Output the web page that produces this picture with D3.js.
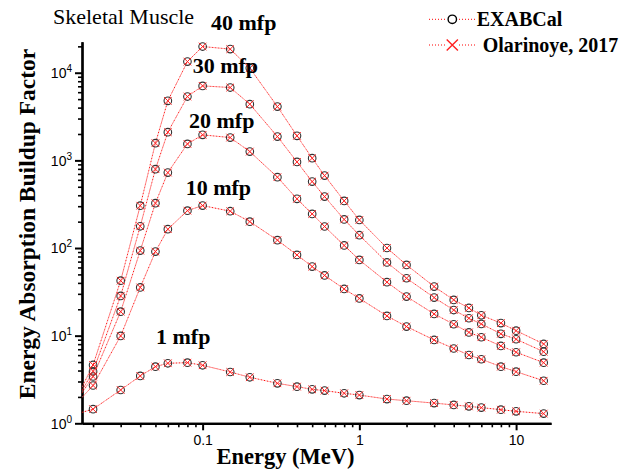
<!DOCTYPE html>
<html><head><meta charset="utf-8">
<script src="https://cdn.jsdelivr.net/npm/d3@7"></script>
<style>body{margin:0;background:#fff}</style>
</head><body>
<svg id="c" width="636" height="474" xmlns="http://www.w3.org/2000/svg"></svg>
<script>
// ---- data ----
const energies = [0.015,0.02,0.03,0.04,0.05,0.06,0.08,0.1,0.15,0.2,0.3,0.4,0.5,0.6,0.8,1,1.5,2,3,4,5,6,8,10,15];
const mfp1  = [1.25,1.45,2.40,3.47,4.43,4.84,4.92,4.59,3.85,3.35,2.86,2.62,2.44,2.36,2.20,2.10,1.89,1.81,1.70,1.62,1.56,1.51,1.43,1.37,1.29];
const mfp10 = [1.55,2.70,9.93,35.5,91,164,267,305,263,200,123,83.4,61.4,48.7,34.1,26.6,16.8,12.7,8.93,7.14,6.02,5.38,4.43,3.88,3.06];
const mfp20 = [1.6,3.42,18.8,93.4,325,726,1542,1955,1821,1260,643,364,245,176,107,73.1,40.8,27.9,17.7,13.5,10.9,9.59,7.63,6.47,4.92];
const mfp30 = [1.6,3.92,28.4,177,794,2100,5350,7080,6780,4380,1870,961,573,386,212,140,68.5,45.2,27.2,19.6,15.8,13.6,10.5,9.1,6.56];
const mfp40 = [1.65,4.63,42.4,304,1572,4780,13400,19900,18600,11300,4110,1905,1059,670,345,209,100,64.1,36.3,25.6,20.7,17.1,13.9,11.4,8.04];
const exabcal = [mfp1, mfp10, mfp20, mfp30, mfp40];
const olarinoye = [mfp1, mfp10, mfp20, mfp30, mfp40];
const seriesLabels = ["1 mfp","10 mfp","20 mfp","30 mfp","40 mfp"];
const legendLabels = ["EXABCal","Olarinoye, 2017"];
const xTickValues = [0.1, 1, 10];
const xTickLabels = ["0.1","1","10"];
const yTickValues = [1, 10, 100, 1000, 10000];
const yTickExponents = ["0","1","2","3","4"];
const chartTitle = "Skeletal Muscle";
const xTitle = "Energy (MeV)";
const yTitle = "Energy Absorption Buildup Factor";

// ---- layout ----
const L = 82, R = 551, T = 41.7, B = 423.3;
const labelPos = [[156,343.5],[185.7,195],[189,128.3],[192.7,73],[211,30]];
const serif = "'Liberation Serif','Times New Roman',serif";
const sans = "'Liberation Sans',Arial,sans-serif";

const svg = d3.select("#c");
const x = d3.scaleLog().domain([0.017, 16.7]).range([L, R]);
const y = d3.scaleLog().domain([1, 22600]).range([B, T]);

svg.append("defs").append("clipPath").attr("id","plot")
  .append("rect").attr("x",L).attr("y",T).attr("width",R-L).attr("height",B-T);

// minor tick values
const xMinor = [];
[0.01,0.1,1,10].forEach(d => { for (let k=2;k<=9;k++){ const v=d*k; if (v>=0.017 && v<=16.7) xMinor.push(v);} });
const yMinor = [];
[1,10,100,1000,10000].forEach(d => { for (let k=2;k<=9;k++){ const v=d*k; if (v<=22600) yMinor.push(v);} });

// x axis
const gx = svg.append("g").attr("transform",`translate(0,${B})`);
gx.call(d3.axisBottom(x).tickValues(xMinor).tickSize(4).tickFormat("").tickSizeOuter(0));
gx.selectAll(".tick line").attr("stroke-width",1.6);
const gx2 = svg.append("g").attr("transform",`translate(0,${B})`);
gx2.call(d3.axisBottom(x).tickValues(xTickValues).tickSize(7).tickPadding(5)
  .tickFormat((d,i)=>xTickLabels[i]).tickSizeOuter(0));
gx2.selectAll(".tick line").attr("stroke-width",2);
gx2.selectAll("text").attr("font-family",sans).attr("font-size",14).attr("fill","#000");
[gx,gx2].forEach(g=>g.select(".domain").attr("stroke-width",2.2).attr("stroke","#000"));

// y axis
const gy = svg.append("g").attr("transform",`translate(${L},0)`);
gy.call(d3.axisLeft(y).tickValues(yMinor).tickSize(4).tickFormat("").tickSizeOuter(0));
gy.selectAll(".tick line").attr("stroke-width",1.6);
const gy2 = svg.append("g").attr("transform",`translate(${L},0)`);
gy2.call(d3.axisLeft(y).tickValues(yTickValues).tickSize(7).tickPadding(3).tickFormat("").tickSizeOuter(0));
gy2.selectAll(".tick line").attr("stroke-width",2);
gy2.selectAll(".tick").each(function(d,i){
  const t = d3.select(this).append("text").attr("x",-10).attr("dy","0.35em")
    .attr("text-anchor","end").attr("font-family",sans).attr("font-size",14).attr("fill","#000");
  t.append("tspan").text("10");
  t.append("tspan").attr("font-size",10).attr("dy","-0.6em").text(yTickExponents[i]);
});
[gy,gy2].forEach(g=>g.select(".domain").attr("stroke-width",2.2).attr("stroke","#000"));

// data lines
const plot = svg.append("g").attr("clip-path","url(#plot)");
const line = d3.line().x(d=>x(d[0])).y(d=>y(d[1]));
exabcal.forEach(vals=>{
  plot.append("path").datum(energies.map((e,i)=>[e,vals[i]])).attr("d",line)
    .attr("fill","none").attr("stroke","#ff0000").attr("stroke-width",1).attr("stroke-dasharray","1,2");
});
olarinoye.forEach(vals=>{
  plot.append("path").datum(energies.map((e,i)=>[e,vals[i]])).attr("d",line)
    .attr("fill","none").attr("stroke","#ff7070").attr("stroke-width",1).attr("stroke-dasharray","1,2").attr("stroke-dashoffset",1.5);
});
// markers
exabcal.forEach(vals=>{
  plot.selectAll(null).data(energies.map((e,i)=>[e,vals[i]])).enter().append("circle")
    .attr("cx",d=>x(d[0])).attr("cy",d=>y(d[1])).attr("r",3.8)
    .attr("fill","none").attr("stroke","#333").attr("stroke-width",1.1);
});
const xs = 3.8;
olarinoye.forEach(vals=>{
  plot.selectAll(null).data(energies.map((e,i)=>[e,vals[i]])).enter().append("path")
    .attr("d",d=>{const cx=x(d[0]), cy=y(d[1]);
      return `M${cx-xs},${cy-xs}L${cx+xs},${cy+xs}M${cx-xs},${cy+xs}L${cx+xs},${cy-xs}`;})
    .attr("fill","none").attr("stroke","#ff2020").attr("stroke-width",1);
});

// series labels
seriesLabels.forEach((s,i)=>{
  svg.append("text").attr("x",labelPos[i][0]).attr("y",labelPos[i][1])
    .attr("font-family",serif).attr("font-weight","bold").attr("font-size",22).attr("fill","#000").text(s);
});

// title
svg.append("text").attr("x",53).attr("y",24).attr("font-family",serif).attr("font-size",22)
  .attr("fill","#000").text(chartTitle);

// axis titles
svg.append("text").attr("x",285.5).attr("y",464).attr("text-anchor","middle")
  .attr("font-family",serif).attr("font-weight","bold").attr("font-size",22.5).attr("fill","#000").text(xTitle);
svg.append("text").attr("transform","translate(34.5,224) rotate(-90)").attr("text-anchor","middle")
  .attr("font-family",serif).attr("font-weight","bold").attr("font-size",23.5).attr("fill","#000").text(yTitle);

// legend
const lg = svg.append("g");
const rows = [19.3, 45];
const textX = [476.7, 482.7];
rows.forEach((ry,i)=>{
  lg.append("line").attr("x1",429).attr("x2",475).attr("y1",ry).attr("y2",ry)
    .attr("stroke","#ff0000").attr("stroke-width",1).attr("stroke-dasharray","1,2");
  lg.append("rect").attr("x",446).attr("y",ry-6).attr("width",12.6).attr("height",12).attr("fill","#fff");
  if (i===0) {
    lg.append("circle").attr("cx",452.3).attr("cy",ry).attr("r",4.2).attr("fill","none").attr("stroke","#000").attr("stroke-width",1.4);
  } else {
    const s=5.6;
    lg.append("path").attr("d",`M${452.3-s},${ry-s}L${452.3+s},${ry+s}M${452.3-s},${ry+s}L${452.3+s},${ry-s}`)
      .attr("stroke","#ff2020").attr("stroke-width",1.4).attr("fill","none");
  }
  lg.append("text").attr("x",textX[i]).attr("y",[26,51.7][i]).attr("font-family",serif)
    .attr("font-weight","bold").attr("font-size",20).attr("fill","#000").text(legendLabels[i]);
});
</script>
</body></html>
